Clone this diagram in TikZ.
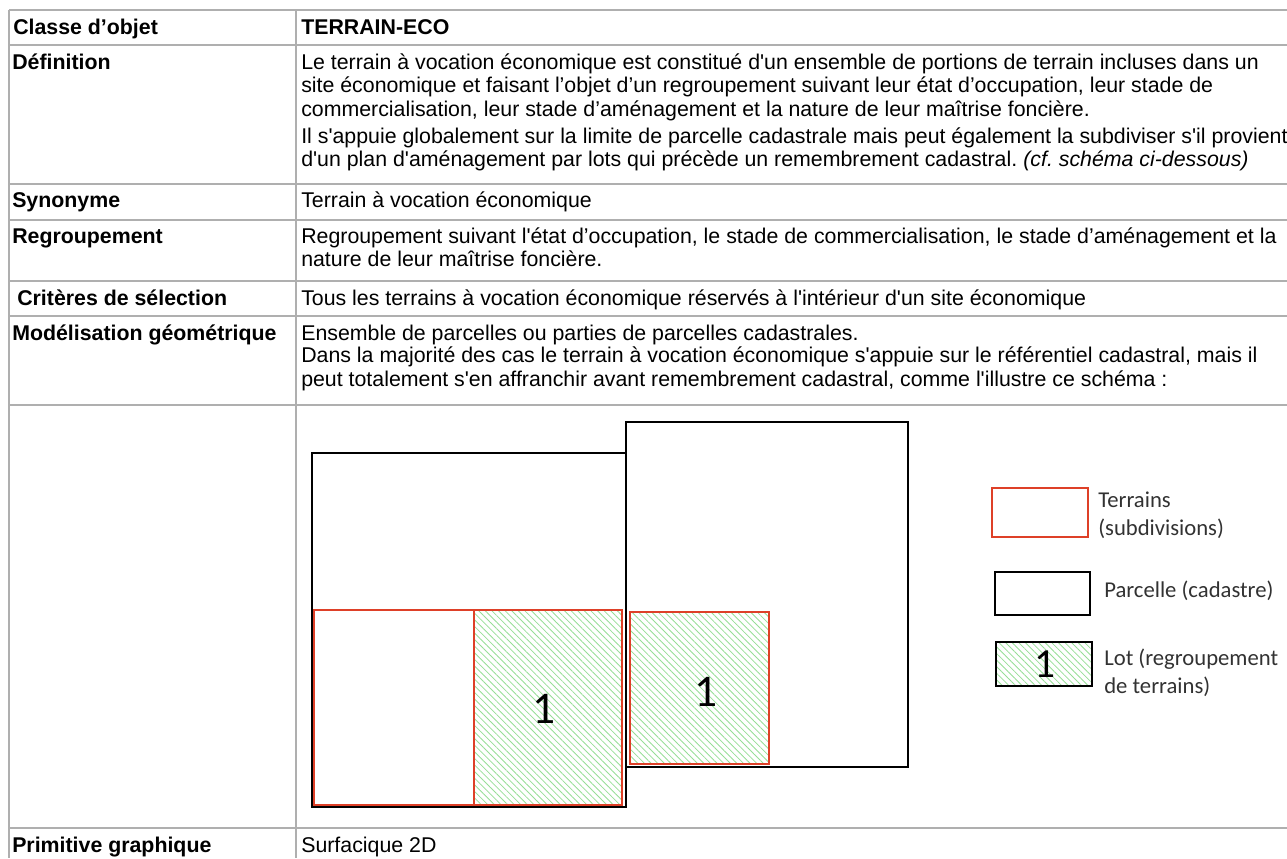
\documentclass[tikz,border=0pt]{standalone}
\usepackage{fontspec}
\setmainfont{Liberation Sans}[Ligatures=TeXOff]
\newfontfamily\calib{Carlito}
\usetikzlibrary{patterns.meta}
\frenchspacing

\definecolor{tabgray}{RGB}{175,175,175}
\definecolor{terrainred}{RGB}{222,64,40}
\definecolor{lotgreen}{RGB}{150,222,150}
\definecolor{leggray}{RGB}{50,50,50}

\tikzset{
  tabrule/.style={draw=tabgray, line width=1.1pt},
  lab/.style={anchor=base west, inner sep=0pt, font=\fontsize{16}{17.6}\selectfont\bfseries},
  txt/.style={anchor=base west, inner sep=0pt, align=left, font=\fontsize{16}{17.6}\selectfont},
  parcelle/.style={draw=black, line width=2.2pt},
  terrain/.style={draw=terrainred, line width=1.5pt},
  lot/.style={pattern={Lines[angle=-45,distance=3.5pt,line width=0.6pt]}, pattern color=lotgreen},
  chiffre/.style={inner sep=0pt, font=\calib\fontsize{34}{40}\selectfont},
  legtxt/.style={anchor=base west, inner sep=0pt, align=left, text=leggray, font=\calib\fontsize{17}{21}\selectfont},
}

\begin{document}
\begin{tikzpicture}[x=0.75pt, y=-0.75pt]
\useasboundingbox (0,0) rectangle (1287,858);

% tableau
\foreach \y in {10,45,184,220,281,316,405,828}
    \draw[tabrule] (9,\y) -- (1287,\y);
\foreach \x in {9,296}
    \draw[tabrule] (\x,10) -- (\x,858);

% (base des textes sur plusieurs lignes = derniere ligne)
\node[lab] (classe) at (13,34) {Classe d’objet};
\node[lab] (nom) at (301,34) {TERRAIN-ECO};

\node[lab] (def) at (12,69) {Définition};
\node[txt] (defA) at (301,116) {Le terrain à vocation économique est constitué d'un ensemble de portions de terrain incluses dans un\\
  site économique et faisant l’objet d’un regroupement suivant leur état d’occupation, leur stade de\\
  commercialisation, leur stade d’aménagement et la nature de leur maîtrise foncière.};
\node[txt] (defB) at (301,166.5) {Il s'appuie globalement sur la limite de parcelle cadastrale mais peut également la subdiviser s'il provient\\
  d'un plan d'aménagement par lots qui précède un remembrement cadastral. \textit{(cf. schéma ci-dessous)}};

\node[lab] (syn) at (12,207) {Synonyme};
\node[txt] (synT) at (301,207) {Terrain à vocation économique};

\node[lab] (regr) at (12,243) {Regroupement};
\node[txt] (regrT) at (301,266.5) {Regroupement suivant l'état d’occupation, le stade de commercialisation, le stade d’aménagement et la\\
  nature de leur maîtrise foncière.};

\node[lab] (crit) at (17,305) {Critères de sélection};
\node[txt] (critT) at (301,305) {Tous les terrains à vocation économique réservés à l'intérieur d'un site économique};

\node[lab] (modl) at (12,340) {Modélisation géométrique};
\node[txt] (modA) at (301,340) {Ensemble de parcelles ou parties de parcelles cadastrales.};
\node[txt] (modB) at (301,386) {Dans la majorité des cas le terrain à vocation économique s'appuie sur le référentiel cadastral, mais il\\
  peut totalement s'en affranchir avant remembrement cadastral, comme l'illustre ce schéma :};

\node[lab] (prim) at (12,852) {Primitive graphique};
\node[txt] (primT) at (301,852) {Surfacique 2D};

% schema : parcelles, terrains, lots
\draw[parcelle] (312,453) rectangle (626,807);
\draw[parcelle] (626,422) rectangle (908,767);
\draw[terrain, fill=white] (314,610) rectangle (474,805);
\draw[terrain, lot] (474,610) rectangle (622,805);
\draw[terrain, lot] (630,612) rectangle (769,764);
\node[chiffre] (lot1) at (544,709) {1};
\node[chiffre] (lot2) at (706,692) {1};

% legende
\draw[terrain, line width=1.9pt] (992,488) rectangle (1088,537);
\draw[parcelle, line width=1.9pt] (995,572) rectangle (1090,615);
\draw[parcelle, line width=1.9pt, lot] (996,642) rectangle (1092,686);
\node[chiffre, font=\calib\fontsize{31}{36}\selectfont] (lot3) at (1045,664) {1};
\node[legtxt] (legT) at (1098,535) {Terrains\\(subdivisions)};
\node[legtxt] (legP) at (1104,597) {Parcelle (cadastre)};
\node[legtxt] (legL) at (1104,693) {Lot (regroupement\\de terrains)};
\end{tikzpicture}
\end{document}
